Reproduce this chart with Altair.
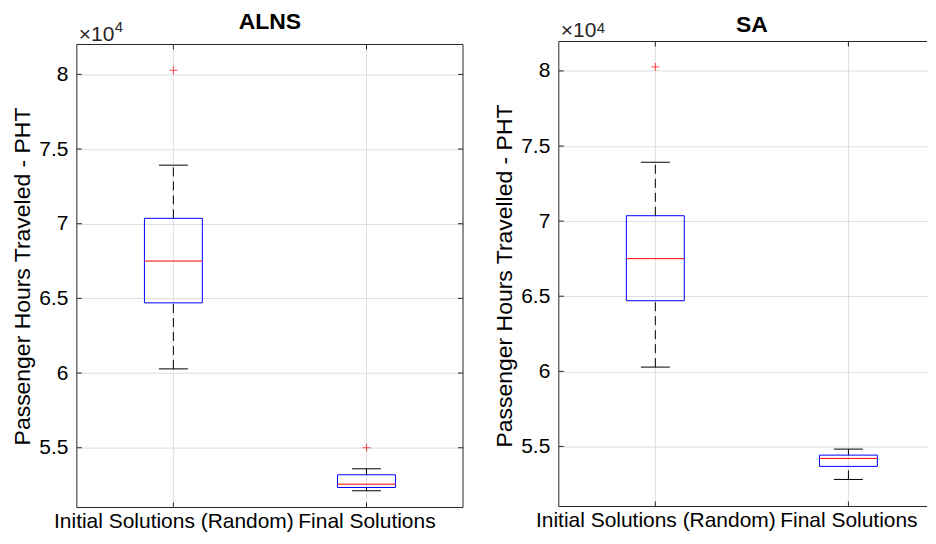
import altair as alt
import pandas as pd

# ---- data ----
groups = ["Initial Solutions (Random)", "Final Solutions"]
positions = [1, 2]

alns_lower = [60280, 52120]
alns_q1 = [64700, 52340]
alns_median = [67500, 52560]
alns_q3 = [70360, 53190]
alns_upper = [73920, 53590]
alns_out_pos = [1, 2]
alns_out_val = [80270, 55000]

sa_lower = [60280, 52800]
sa_q1 = [64700, 53670]
sa_median = [67500, 54200]
sa_q3 = [70360, 54420]
sa_upper = [73920, 54820]
sa_out_pos = [1]
sa_out_val = [80270]

y_ticks = [55000, 60000, 65000, 70000, 75000, 80000]
x_ticks = [1, 2]

FONT = "Liberation Sans"
DARK = "#262626"
GRID = "#dfdfdf"


def panel(name, ytitle, lower, q1, med, q3, upper, opos, oval, W, H, xmax,
          ydom, top, title_y, mult_y, expo_y, right_border):
    df = pd.DataFrame({"pos": positions, "lower": lower, "q1": q1,
                       "median": med, "q3": q3, "upper": upper})
    odf = pd.DataFrame({"pos": opos, "val": oval})
    ydf = pd.DataFrame({"t": y_ticks})
    xdf = pd.DataFrame({"t": x_ticks})

    xs = alt.Scale(domain=[0.5, xmax], nice=False, zero=False)
    ys = alt.Scale(domain=ydom, nice=False, zero=False)
    label_expr = "datum.value == 1 ? '%s' : '%s'" % (groups[0], groups[1])
    xa = alt.Axis(values=x_ticks, labelExpr=label_expr, grid=False, ticks=False,
                  domain=False, title=None, labelFontSize=21, labelPadding=3,
                  labelOverlap=False, labelFlush=False, labelLimit=0)
    ya = alt.Axis(values=y_ticks, labelExpr="datum.value / 10000", grid=True,
                  ticks=False, domain=False, title=ytitle, titleFontSize=23,
                  titleFontWeight="normal", titlePadding=4, labelPadding=9,
                  labelFontSize=21)

    def X(f):
        return alt.X(f, type="quantitative", scale=xs, axis=xa)

    def Y(f):
        return alt.Y(f, type="quantitative", scale=ys, axis=ya)

    base = alt.Chart(df).transform_calculate(
        b1="datum.pos - 0.15", b2="datum.pos + 0.15",
        c1="datum.pos - 0.075", c2="datum.pos + 0.075")

    xgrid = alt.Chart(xdf).mark_rule(color=GRID).encode(
        x=X("t"), y=alt.value(top), y2=alt.value(H))
    box = base.mark_rect(filled=False, color="#0000ff", strokeWidth=1).encode(
        x=X("b1"), x2="b2:Q", y=Y("q1"), y2="q3:Q")
    median = base.mark_rule(color="#ff0000", strokeWidth=1).encode(
        x=X("b1"), x2="b2:Q", y=Y("median"))
    wu = base.mark_rule(color="#000000", strokeDash=[9, 5], strokeWidth=1).encode(
        x=X("pos"), y=Y("q3"), y2="upper:Q")
    wl = base.mark_rule(color="#000000", strokeDash=[9, 5], strokeWidth=1).encode(
        x=X("pos"), y=Y("lower"), y2="q1:Q")
    cu = base.mark_rule(color="#000000", strokeWidth=1).encode(
        x=X("c1"), x2="c2:Q", y=Y("upper"))
    cl = base.mark_rule(color="#000000", strokeWidth=1).encode(
        x=X("c1"), x2="c2:Q", y=Y("lower"))
    out = alt.Chart(odf).mark_point(shape="M-1,0L1,0M0,-1L0,1", filled=False,
                                    color="#ff0000", size=64, strokeWidth=1).encode(
        x=X("pos"), y=Y("val"))

    one = xdf.head(1)
    frame = [
        alt.Chart(one).mark_rule(color=DARK).encode(
            x=alt.value(0), y=alt.value(top), y2=alt.value(H)),
        alt.Chart(one).mark_rule(color=DARK).encode(
            x=alt.value(0), x2=alt.value(W), y=alt.value(top)),
        alt.Chart(one).mark_rule(color=DARK).encode(
            x=alt.value(0), x2=alt.value(W), y=alt.value(H)),
        alt.Chart(ydf).mark_rule(color=DARK).encode(
            y=Y("t"), x=alt.value(0), x2=alt.value(5)),
        alt.Chart(xdf).mark_rule(color=DARK).encode(
            x=X("t"), y=alt.value(H - 5), y2=alt.value(H)),
        alt.Chart(xdf).mark_rule(color=DARK).encode(
            x=X("t"), y=alt.value(top), y2=alt.value(top + 5)),
    ]
    if right_border:
        frame += [
            alt.Chart(one).mark_rule(color=DARK).encode(
                x=alt.value(W), y=alt.value(top), y2=alt.value(H)),
            alt.Chart(ydf).mark_rule(color=DARK).encode(
                y=Y("t"), x=alt.value(W - 5), x2=alt.value(W)),
        ]

    tdf = pd.DataFrame({"t": [name]})
    title = alt.Chart(tdf).mark_text(font=FONT, fontSize=23, fontWeight="bold",
                                     color="#000000", align="center",
                                     baseline="alphabetic").encode(
        text="t:N", x=alt.value(193.5), y=alt.value(title_y))
    mdf = pd.DataFrame({"a": ["×10"], "b": ["4"]})
    mult = alt.Chart(mdf).mark_text(font=FONT, fontSize=21, color=DARK,
                                    align="left", baseline="alphabetic").encode(
        text="a:N", x=alt.value(2), y=alt.value(mult_y))
    expo = alt.Chart(mdf).mark_text(font=FONT, fontSize=15, color=DARK,
                                    align="left", baseline="alphabetic").encode(
        text="b:N", x=alt.value(38), y=alt.value(expo_y))

    return alt.layer(xgrid, box, wu, wl, cu, cl, median, out, *frame,
                     title, mult, expo).properties(
        width=W, height=H, view=alt.ViewBackground(stroke="transparent"))


left = panel("ALNS", "Passenger Hours Traveled - PHT", alns_lower, alns_q1,
             alns_median, alns_q3, alns_upper, alns_out_pos, alns_out_val,
             387, 464, 2.5, [51000, 82000], 0, -15.6, -3.7, -12.3, True)
right = panel("SA", "Passenger Hours Travelled - PHT", sa_lower, sa_q1,
              sa_median, sa_q3, sa_upper, sa_out_pos, sa_out_val,
              369, 463, 0.5 + 369 / 193.5, [51000, 81760], -3, -13, -8, -11.5,
              False)

chart = alt.hconcat(left, right, spacing=29,
                    padding={"left": 3, "top": 1, "right": 0, "bottom": 0}).configure_view(
    stroke="transparent"
).configure_axis(
    labelFont=FONT, titleFont=FONT, labelColor=DARK, titleColor=DARK,
    titleFontWeight="normal", gridColor=GRID, gridWidth=1
).configure(background="white")

chart.save("out.html", embed_options={"renderer": "svg", "actions": False})
